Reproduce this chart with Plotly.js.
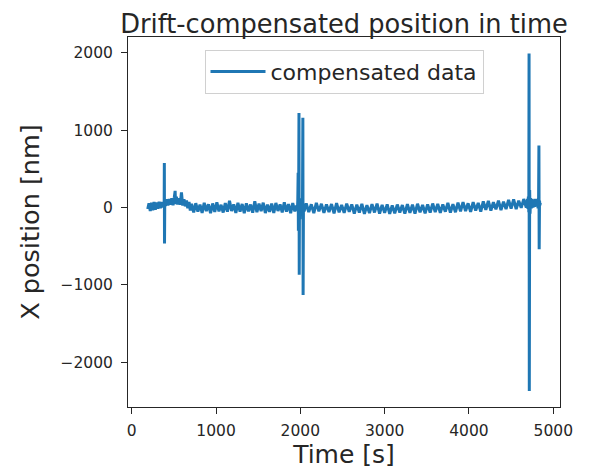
<!DOCTYPE html>
<html>
<head>
<meta charset="utf-8">
<script src="https://cdn.plot.ly/plotly-3.0.1.min.js"></script>
<style>html,body{margin:0;padding:0;background:#fff;}#chart{width:590px;height:473px;}</style>
</head>
<body>
<div id="chart"></div>
<script>
// Time [s] of each sample
const timeStart = [190,205,220,235,250,265,280,295,310,325,340,355,370,380];
const valStart  = [-20,55,-45,60,-35,70,-30,65,-15,75,-10,70,0,60];

const timeSpike1 = [385,387,389,392];
const valSpike1  = [20,575,-465,60];

const timeEarly = [400,415,430,445,460,475,490,505,515,520,530,545,560,575,590,605,620,635,650,665,680,695];
const valEarly  = [20,105,25,110,35,120,30,130,215,45,140,40,120,35,195,25,105,15,90,-10,70,-40];

const timeMid1 = [710,735,760,785,810,835,860,885,910,935,960,985,1010,1035,1060,1085,1110,1135,1160,1185,1210,1235,1260,1285,1310,1335,1360,1385,1410,1435,1460,1485,1510,1535,1560,1585,1610,1635,1660,1685,1710,1735,1760,1785,1810,1835,1860,1885,1910,1935,1955];
const valMid1  = [48,-64,55,-52,37,-70,60,-47,42,-73,52,-58,66,-50,35,-65,57,-55,85,-46,40,-69,59,-53,45,-75,54,-49,38,-67,80,-61,51,-48,62,-72,36,-57,49,-70,58,-45,39,-63,67,-54,44,-74,56,-51,25];

const timeSpike2 = [1965,1970,1974,1977,1980,1984,1987,1990,1995,2000,2005,2010,2015,2020,2025,2030,2033,2037,2045];
const valSpike2  = [-40,100,450,-300,80,1220,-870,60,-150,120,-60,90,-80,60,-40,1160,-1130,40,-50];

const timeMid2 = [2070,2100,2130,2160,2190,2220,2250,2280,2310,2340,
  2370,2400,2430,2460,2490,2520,2550,2580,2610,2640,
  2670,2700,2730,2760,2790,2820,2850,2880,2910,2940,
  2970,3000,3030,3060,3090,3120,3150,3180,3210,3240,
  3270,3300,3330,3360,3390,3420,3450,3480,3510,3540,
  3570,3600,3630,3660,3690,3720,3750,3780,3810,3840,
  3870,3900,3930,3960,3990,4020,4050,4080,4110,4140,
  4170,4200,4230,4260,4290,4320,4350,4380,4410,4440,
  4470,4500,4530,4560,4590,4620,4650,4680];
const valMid2 = [53,-60,41,-72,60,-50,47,-69,38,-58,
  44,-75,55,-62,32,-70,49,-56,40,-79,
  37,-67,46,-81,29,-73,43,-64,50,-78,
  34,-70,40,-83,27,-75,38,-66,31,-80,
  43,-69,36,-78,48,-62,32,-74,41,-65,
  51,-59,46,-70,39,-54,58,-67,44,-61,
  63,-50,70,-45,54,-57,68,-39,59,-52,
  78,-30,84,-41,67,-24,89,-35,76,-20,
  98,-15,104,-22,87,-4,109,0];

const timeEnd = [4695,4700,4705,4710,4713,4716,4720,4725,4730,4740,4750,4760,4770,4780,4790,4800,4810,4820,4826,4830,4833,4837,4842,4846];
const valEnd  = [110,-20,140,-60,1990,-2370,225,-80,120,-10,110,0,100,10,110,20,100,-10,120,800,-540,90,30,60];

const time = [].concat(timeStart, timeSpike1, timeEarly, timeMid1, timeSpike2, timeMid2, timeEnd);
const position = [].concat(valStart, valSpike1, valEarly, valMid1, valSpike2, valMid2, valEnd);

const xTicks = [0,1000,2000,3000,4000,5000];
const yTicks = [-2000,-1000,0,1000,2000];

const font = "DejaVu Sans, Verdana, sans-serif";

const trace = {
  x: time, y: position, type: 'scatter', mode: 'lines',
  name: 'compensated data',
  line: {color: '#1f77b4', width: 3, simplify: false}
};

const layout = {
  width: 590, height: 473,
  margin: {l: 128, r: 30, t: 37, b: 66},
  paper_bgcolor: '#fff', plot_bgcolor: '#fff',
  font: {family: font, color: '#262626'},
  title: {text: 'Drift-compensated position in time', font: {size: 25.7, color: '#262626'},
          x: 0.5, xref: 'paper', xanchor: 'center', y: 1, yref: 'paper', yanchor: 'bottom', pad: {b: 4}},
  xaxis: {
    range: [-44, 5080], tickvals: xTicks, ticktext: xTicks.map(String),
    showgrid: false, zeroline: false, showline: true, mirror: true,
    linecolor: '#262626', linewidth: 1, ticks: 'outside', ticklen: 6, tickcolor: '#262626',
    tickfont: {size: 15.5}, ticklabelstandoff: 3,
    title: {text: 'Time [s]', font: {size: 25}, standoff: 3}
  },
  yaxis: {
    range: [-2578, 2203], tickvals: yTicks, ticktext: yTicks.map(v => v < 0 ? '\u2212' + Math.abs(v) : String(v)),
    showgrid: false, zeroline: false, showline: true, mirror: true,
    linecolor: '#262626', linewidth: 1, ticks: 'outside', ticklen: 6, tickcolor: '#262626',
    tickfont: {size: 15.5}, ticklabelstandoff: 5,
    title: {text: 'X position [nm]', font: {size: 25.5}, standoff: 13}
  },
  showlegend: true,
  legend: {x: 0.5, xanchor: 'center', y: 0.966, yanchor: 'top', bgcolor: 'rgba(255,255,255,0.8)',
           bordercolor: '#d0d0d0', borderwidth: 1, itemwidth: 55, font: {size: 22, color: '#262626'}}
};

Plotly.newPlot('chart', [trace], layout, {displayModeBar: false, staticPlot: true});
</script>
</body>
</html>
